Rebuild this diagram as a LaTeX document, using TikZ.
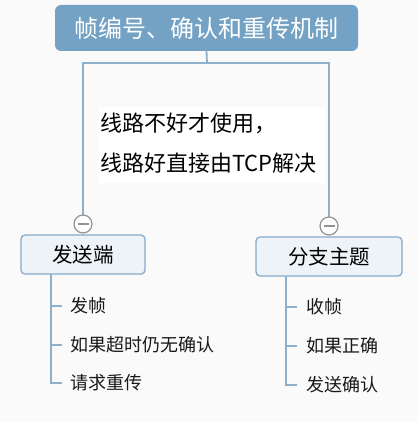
\documentclass[tikz,border=0pt]{standalone}
\usepackage{fontspec}
\setmainfont{Noto Sans CJK SC}
\begin{document}
\begin{tikzpicture}[x=1pt,y=-1pt,
  link/.style={draw=linkc,line width=1.8pt},
  rootbox/.style={draw=none,fill=rootc,rounded corners=6pt,minimum width=303pt,minimum height=46pt,text=white,font=\fontsize{24}{27}\selectfont,inner sep=0pt},
  childbox/.style={draw=childb,fill=childf,line width=1.3pt,rounded corners=4pt,minimum height=39pt,font=\fontsize{20.5}{24}\selectfont,inner sep=0pt},
  leaf/.style={anchor=west,font=\fontsize{18}{20}\selectfont,inner sep=0pt,text=black!90},
  notetext/.style={anchor=west,inner sep=0pt,font=\fontsize{22}{24}\selectfont},
  collapse/.style={circle,draw=gray!85,fill=white,line width=1.2pt,minimum size=18pt,inner sep=0pt},
  minus/.style={draw=gray!85,line width=1.2pt},
  notebox/.style={fill=white,anchor=north west,minimum width=226pt,minimum height=76pt,inner sep=0pt}
]
\definecolor{rootc}{HTML}{74A2C4}
\definecolor{linkc}{HTML}{8DB1CD}
\definecolor{childb}{HTML}{86AACA}
\definecolor{childf}{HTML}{EEF3F8}
\definecolor{bgc}{HTML}{FAFAFA}
\fill[bgc] (0,0) rectangle (418,422);
\useasboundingbox (0,0) rectangle (418,422);

\node[rootbox] (root) at (206.5,28) {帧编号、确认和重传机制};
\coordinate (j) at (207,63);
\node[notebox] (note) at (99,107) {};
\node[notetext] (n1) at (100,123) {线路不好才使用，};
\node[notetext] (n2) at (100,163) {线路好直接由TCP解决};

\node[childbox,minimum width=124pt] (L) at (83,254.5) {发送端};
\node[childbox,minimum width=146pt] (R) at (329,256.5) {分支主题};
\coordinate (cLc) at (83,224);
\coordinate (cRc) at (329,226);

\draw[link] (root.south) -- (j);
\draw[link] ([yshift=-9pt]cLc) |- (j) -| ([yshift=-9pt]cRc);
\node[collapse] (cL) at (cLc) {};
\node[collapse] (cR) at (cRc) {};
\draw[minus] ([xshift=-5.5pt]cL.center) -- ([xshift=5.5pt]cL.center);
\draw[minus] ([xshift=-5.5pt]cR.center) -- ([xshift=5.5pt]cR.center);

\node[leaf] (l1) at (70,306) {发帧};
\node[leaf] (l2) at (70,345) {如果超时仍无确认};
\node[leaf] (l3) at (70,383) {请求重传};
\node[leaf] (r1) at (306,307) {收帧};
\node[leaf] (r2) at (306,346) {如果正确};
\node[leaf] (r3) at (306,385) {发送确认};

\coordinate (lt) at (51,274);
\coordinate (rt) at (286,276);
\draw[link,line width=1.5pt] (lt) |- ([xshift=-8pt]l3.west);
\draw[link,line width=1.5pt] (51,306) -- ([xshift=-8pt]l1.west);
\draw[link,line width=1.5pt] (51,345) -- ([xshift=-8pt]l2.west);
\draw[link,line width=1.5pt] (rt) |- ([xshift=-9pt]r3.west);
\draw[link,line width=1.5pt] (286,307) -- ([xshift=-9pt]r1.west);
\draw[link,line width=1.5pt] (286,346) -- ([xshift=-9pt]r2.west);
\end{tikzpicture}
\end{document}
